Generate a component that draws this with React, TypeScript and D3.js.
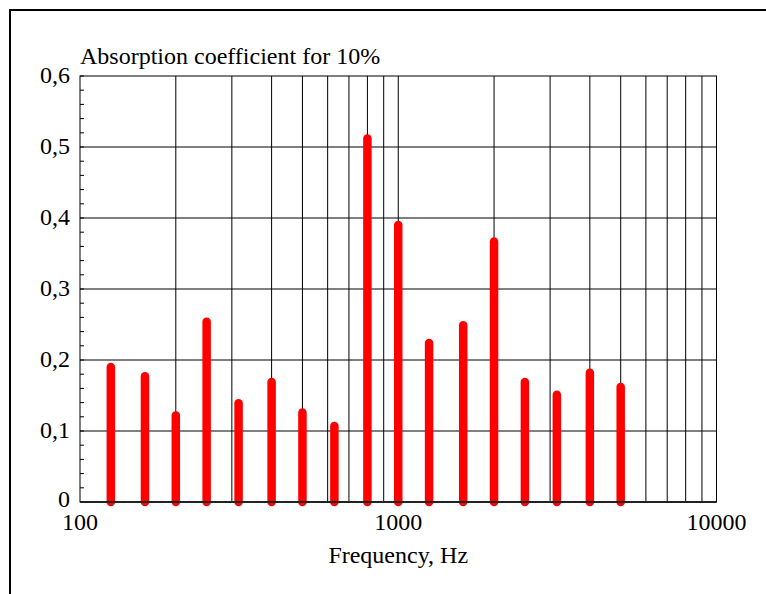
import * as d3 from "d3";

// 1/3-octave band centre frequencies, Hz
const frequencies = [125, 160, 200, 250, 315, 400, 500, 630, 800, 1000, 1250, 1600, 2000, 2500, 3150, 4000, 5000];
// absorption coefficient
const absorption = [0.19, 0.177, 0.122, 0.254, 0.139, 0.169, 0.126, 0.107, 0.512, 0.39, 0.224, 0.249, 0.367, 0.169, 0.151, 0.182, 0.162];

const yTicks = [0, 0.1, 0.2, 0.3, 0.4, 0.5, 0.6];
const xLabels = [100, 1000, 10000];
const title = "Absorption coefficient for 10%";
const xTitle = "Frequency, Hz";

const width = 766;
const height = 594;
const margin = { top: 76, right: 49.5, bottom: 92, left: 80 };

export default function App() {
  const x = d3.scaleLog().domain([100, 10000]).range([margin.left, width - margin.right]);
  const y = d3.scaleLinear().domain([0, 0.6]).range([height - margin.bottom, margin.top]);

  // vertical grid at 200..900 and 2000..9000, plus 1000
  const vGrid: number[] = [];
  for (let dec = 100; dec < 10000; dec *= 10) {
    for (let k = 2; k <= 9; k++) vGrid.push(dec * k);
  }
  vGrid.push(1000);
  const minorY = d3.range(0, 0.6001, 0.02);

  const font = "'Liberation Serif', 'Times New Roman', serif";
  const fs = 24;
  const x0 = margin.left;
  const x1 = width - margin.right;
  const y0 = height - margin.bottom;
  const y1 = margin.top;

  return (
    <svg
      width={width}
      height={height}
      style={{ position: "fixed", left: 0, top: 0, background: "#fff" }}
      fontFamily={font}
    >
      {/* outer frame, runs off the picture on the right and bottom */}
      <rect x={10} y={10} width={width + 20} height={height + 20} fill="none" stroke="#000" strokeWidth={2} />

      {/* grid */}
      {vGrid.map((f) => (
        <line key={`v${f}`} x1={x(f)} x2={x(f)} y1={y0} y2={y1} stroke="#000" strokeWidth={1} />
      ))}
      {yTicks.slice(1, -1).map((t) => (
        <line key={`h${t}`} x1={x0} x2={x1} y1={y(t)} y2={y(t)} stroke="#000" strokeWidth={1} />
      ))}
      {minorY.map((t, i) => (
        <line key={`m${i}`} x1={x0} x2={x0 + 4} y1={y(t)} y2={y(t)} stroke="#000" strokeWidth={1} />
      ))}

      {/* bars */}
      {frequencies.map((f, i) => (
        <line
          key={f}
          x1={x(f)}
          x2={x(f)}
          y1={y(0)}
          y2={y(absorption[i])}
          stroke="#ff0000"
          strokeWidth={8.5}
          strokeLinecap="round"
        />
      ))}

      {/* plot frame */}
      <rect x={x0} y={y1} width={x1 - x0} height={y0 - y1} fill="none" stroke="#000" strokeWidth={1} />
      <line x1={x0} x2={x1} y1={y0} y2={y0} stroke="#222" strokeWidth={2} />

      {/* labels */}
      {yTicks.map((t) => (
        <text key={`yl${t}`} x={x0 - 10} y={y(t) + (t === 0 ? 5 : 7)} textAnchor="end" fontSize={fs} fill="#000">
          {String(t).replace(".", ",")}
        </text>
      ))}
      {xLabels.map((f) => (
        <text key={`xl${f}`} x={x(f)} y={y0 + 28} textAnchor="middle" fontSize={fs} fill="#000">
          {f}
        </text>
      ))}
      <text x={x0} y={y1 - 12} fontSize={fs} fill="#000">
        {title}
      </text>
      <text x={(x0 + x1) / 2} y={y0 + 61} textAnchor="middle" fontSize={fs} fill="#000">
        {xTitle}
      </text>
    </svg>
  );
}
